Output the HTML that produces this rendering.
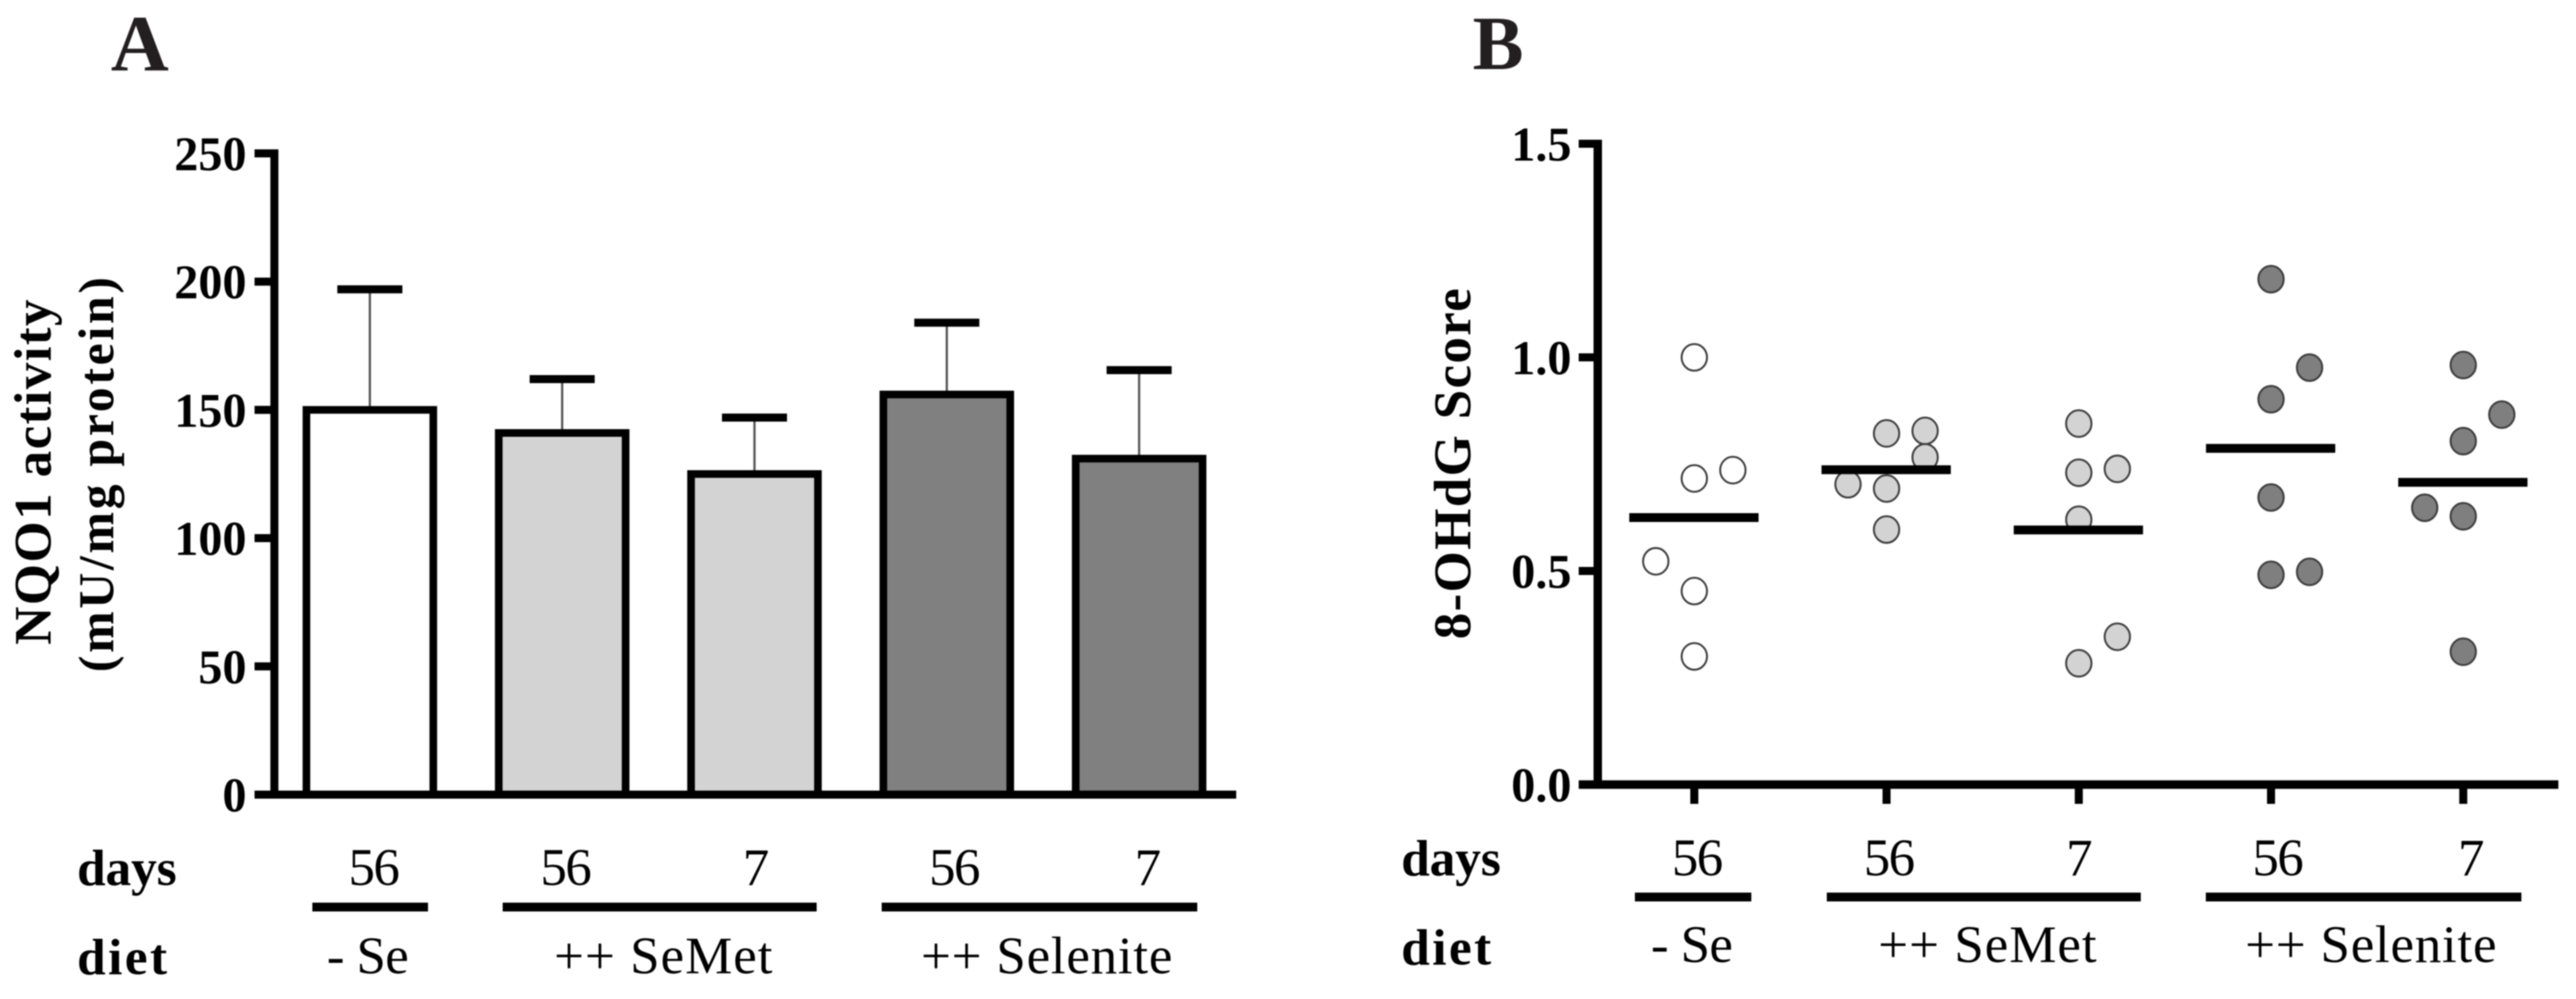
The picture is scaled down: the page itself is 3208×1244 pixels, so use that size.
<!DOCTYPE html>
<html lang="en">
<head>
<meta charset="utf-8">
<title>NQO1 activity and 8-OHdG score by diet</title>
<style>
html,body{margin:0;padding:0;background:#fff;width:3208px;height:1244px;overflow:hidden}
svg{display:block;filter:blur(0.7px)}
text{font-family:"Liberation Serif",serif;fill:#000}
.b{font-weight:700}
.tick{font-weight:700;font-size:60px;text-anchor:end}
.rowhead{font-weight:700;font-size:64px}
.row{font-size:66px}
.title{font-weight:700;font-size:66px}
.title2{font-weight:700;font-size:62px}
.panel{font-weight:700;fill:#231f20}
</style>
</head>
<body>
<svg id="figure" xmlns="http://www.w3.org/2000/svg" width="3208" height="1244" viewBox="0 0 3208 1244">
  <rect x="0" y="0" width="3208" height="1244" fill="#fff"/>

  <text class="panel" x="138" y="88" font-size="100" textLength="71">A</text>
  <text class="panel" x="1834" y="86" font-size="95" textLength="62">B</text>

  <text class="title" transform="translate(63,803) rotate(-90)" textLength="430">NQO1 activity</text>
  <text class="title2" transform="translate(141,837) rotate(-90)" textLength="492">(mU/mg protein)</text>
  <text class="title" transform="translate(1831,796) rotate(-90)" textLength="437">8-OHdG Score</text>

  <g id="chart-a"></g>
  <g id="chart-b"></g>

  <g>
    <text class="rowhead" x="96" y="1102" textLength="124">days</text>
    <text class="rowhead" x="96" y="1213" textLength="112">diet</text>
    <text class="row" x="434" y="1102" textLength="64">56</text>
    <text class="row" x="673" y="1102" textLength="64">56</text>
    <text class="row" x="925" y="1102" textLength="33">7</text>
    <text class="row" x="1157" y="1102" textLength="64">56</text>
    <text class="row" x="1413" y="1102" textLength="33">7</text>
    <rect x="389" y="1124" width="144" height="11" fill="#000"/>
    <rect x="626" y="1124" width="391" height="11" fill="#000"/>
    <rect x="1098" y="1124" width="393" height="11" fill="#000"/>
    <text class="row" x="407" y="1212" textLength="102">- Se</text>
    <text class="row" x="690" y="1212" textLength="272">++ SeMet</text>
    <text class="row" x="1147" y="1212" textLength="313">++ Selenite</text>
  </g>

  <g>
    <text class="rowhead" x="1745" y="1090" textLength="124">days</text>
    <text class="rowhead" x="1745" y="1201" textLength="112">diet</text>
    <text class="row" x="2082" y="1090" textLength="64">56</text>
    <text class="row" x="2321" y="1090" textLength="64">56</text>
    <text class="row" x="2573" y="1090" textLength="33">7</text>
    <text class="row" x="2805" y="1090" textLength="64">56</text>
    <text class="row" x="3061" y="1090" textLength="33">7</text>
    <rect x="2036" y="1111.5" width="145" height="11" fill="#000"/>
    <rect x="2275" y="1111.5" width="391" height="11" fill="#000"/>
    <rect x="2747" y="1111.5" width="393" height="11" fill="#000"/>
    <text class="row" x="2056" y="1198" textLength="102">- Se</text>
    <text class="row" x="2339" y="1198" textLength="272">++ SeMet</text>
    <text class="row" x="2796" y="1198" textLength="313">++ Selenite</text>
  </g>
</svg>
<script>
const barCategories = ['-Se 56', 'SeMet 56', 'SeMet 7', 'Selenite 56', 'Selenite 7'];
const barValues = [150, 141, 125, 156, 131];
const barErrorTops = [197, 162, 147, 184, 165.5];
const barFills = ['#ffffff', '#d3d3d3', '#d3d3d3', '#808080', '#808080'];
const barTickLabels = ['0', '50', '100', '150', '200', '250'];
const barTickValues = [0, 50, 100, 150, 200, 250];

const scoreTickLabels = ['0.0', '0.5', '1.0', '1.5'];
const scoreTickValues = [0, 0.5, 1, 1.5];
const scoreFills = ['#ffffff', '#d3d3d3', '#d3d3d3', '#7f7f7f', '#7f7f7f'];
const scoreMeans = [0.625, 0.737, 0.596, 0.787, 0.7075];
const scoreGroup1 = [1.0, 0.7165, 0.736, 0.5226, 0.453, 0.30];
const scoreGroup2 = [0.822, 0.828, 0.766, 0.703, 0.693, 0.597];
const scoreGroup3 = [0.845, 0.739, 0.730, 0.62, 0.346, 0.284];
const scoreGroup4 = [1.183, 0.976, 0.902, 0.672, 0.498, 0.491];
const scoreGroup5 = [0.982, 0.866, 0.804, 0.648, 0.628, 0.311];
const swarmSlots1 = [0, 0, 1, -1, 0, 0];
const swarmSlots2 = [0, 1, 1, -1, 0, 0];
const swarmSlots3 = [0, 1, 0, 0, 1, 0];
const swarmSlots4 = [0, 1, 0, 0, 1, 0];
const swarmSlots5 = [0, 1, 0, -1, 0, 0];

const NS = 'http://www.w3.org/2000/svg';
const chartA = document.getElementById('chart-a');
const chartB = document.getElementById('chart-b');

function make(parent, tag, attrs, text) {
  const el = document.createElementNS(NS, tag);
  for (const k in attrs) el.setAttribute(k, attrs[k]);
  if (text !== undefined) el.textContent = text;
  parent.appendChild(el);
  return el;
}

/* Axis functions */
const yA = v => 989.5 - v * (798.5 / 250);
const xA = i => 460.6 + 239.5 * i;
const yB = v => 977 - v * (798 / 1.5);
const xB = i => 2110 + 239.4 * i;
const slotB = s => s * 48;

/* Panel A: error bars, then bars */
barCategories.forEach((cat, i) => {
  const stem = make(chartA, 'line', {x1: xA(i), x2: xA(i), y1: yA(barErrorTops[i]), y2: yA(barValues[i]), stroke: '#555', 'stroke-width': 2.8});
  
  
  const cap = make(chartA, 'rect', {x: xA(i) - 40.5, y: yA(barErrorTops[i]) - 5, width: 81, height: 10, fill: '#000'});
  
  
  const bar = make(chartA, 'rect', {x: xA(i) - 79, y: yA(barValues[i]), width: 158, height: yA(0) - yA(barValues[i]), fill: barFills[i], stroke: '#000', 'stroke-width': 9.5});
  
  
});

/* Panel A: axes */
const axisAY = make(chartA, 'rect', {x: 336.7, y: 186, width: 10, height: 808.5, fill: '#000'});


const axisAX = make(chartA, 'rect', {x: 317, y: yA(0) - 5, width: 1222.5, height: 10, fill: '#000'});


barTickValues.forEach((v, i) => {
  const tick = make(chartA, 'rect', {x: 317, y: yA(v) - 5, width: 22, height: 10, fill: '#000'});
  
  
  const label = make(chartA, 'text', {class: 'tick', x: 307, y: yA(v) + 21}, barTickLabels[i]);
  
  
});

/* Panel B: points, then mean lines */
[scoreGroup1, scoreGroup2, scoreGroup3, scoreGroup4, scoreGroup5].forEach((values, g) => {
  const slots = [swarmSlots1, swarmSlots2, swarmSlots3, swarmSlots4, swarmSlots5][g];
  values.forEach((v, j) => {
    const dot = make(chartB, 'ellipse', {cx: xB(g) + slotB(slots[j]), cy: yB(v), rx: 15.8, ry: 16.6, fill: scoreFills[g], stroke: '#3c3c3c', 'stroke-width': 2.4});
    
    
  });
});
scoreMeans.forEach((m, g) => {
  const mean = make(chartB, 'rect', {x: xB(g) - 81, y: yB(m) - 5.5, width: 161, height: 11, fill: '#000'});
  
  
});

/* Panel B: axes */
const axisBY = make(chartB, 'rect', {x: 1984.5, y: 174, width: 10.5, height: 808, fill: '#000'});


const axisBX = make(chartB, 'rect', {x: 1966, y: yB(0) - 5.3, width: 1220, height: 10.6, fill: '#000'});


scoreTickValues.forEach((v, i) => {
  const tick = make(chartB, 'rect', {x: 1966, y: yB(v) - 5, width: 22, height: 10, fill: '#000'});
  
  
  const label = make(chartB, 'text', {class: 'tick', x: 1957, y: yB(v) + 21}, scoreTickLabels[i]);
  
  
});
scoreMeans.forEach((m, g) => {
  const tick = make(chartB, 'rect', {x: xB(g) - 5, y: yB(0), width: 10, height: 24, fill: '#000'});
  
  
});
</script>
</body>
</html>
